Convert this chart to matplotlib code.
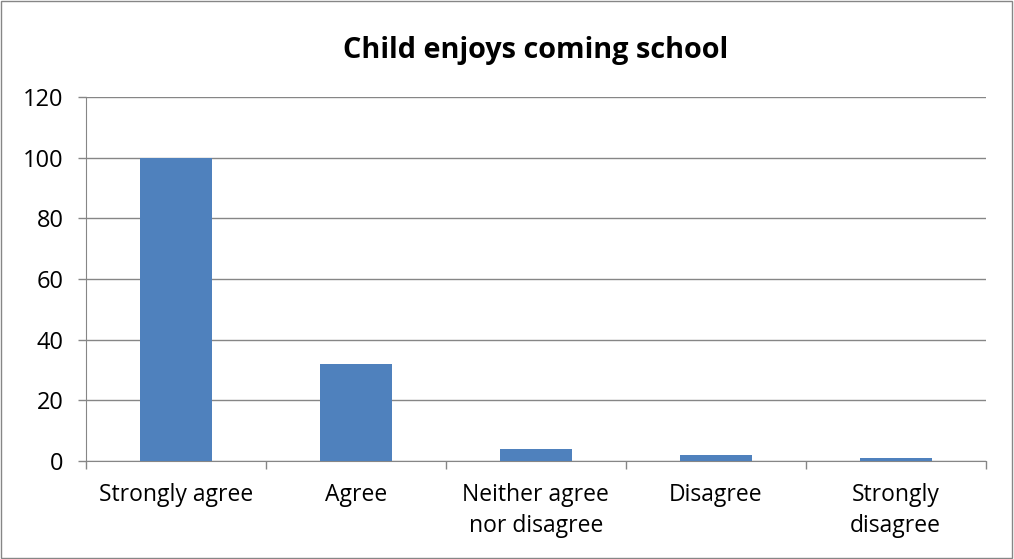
import matplotlib.pyplot as plt
import numpy as np

categories = ['Strongly agree', 'Agree', 'Neither agree\nnor disagree', 'Disagree', 'Strongly\ndisagree']
values = [100, 32, 4, 2, 1]
yticks = [0, 20, 40, 60, 80, 100, 120]

plt.rcParams['font.family'] = ['Open Sans', 'DejaVu Sans']

fig = plt.figure(figsize=(10.14, 5.59), dpi=100)
ax = fig.add_axes([0.0848, 0.1753, 0.8872, 0.6512])

grey = '#868686'
x = np.arange(len(categories))
ax.bar(x, values, width=0.4, color='#4F81BD', zorder=3)

ax.set_xlim(-0.5, len(categories) - 0.5)
ax.set_ylim(0, 120)
ax.set_yticks(yticks)
ax.set_yticklabels([str(v) for v in yticks], fontsize=17)
ax.yaxis.grid(True, color=grey, linewidth=1, zorder=0)

ax.set_xticks(x)
ax.set_xticklabels(categories, fontsize=16.5, linespacing=1.35)
ax.set_xticks(np.arange(len(categories) + 1) - 0.5, minor=True)
ax.tick_params(axis='x', which='major', length=0, pad=16)
ax.tick_params(axis='x', which='minor', length=6, color=grey, width=1)
ax.tick_params(axis='y', length=6, color=grey, width=1, pad=10)

for s in ['top', 'right']:
    ax.spines[s].set_visible(False)
ax.spines['left'].set_color(grey)
ax.spines['bottom'].set_color(grey)

ax.set_title('Child enjoys coming school', fontsize=20.8, fontweight='bold', pad=28)

fig.patches.append(plt.Rectangle((0.001, 0.002), 0.997, 0.996, transform=fig.transFigure,
                                 fill=False, edgecolor=grey, linewidth=1))

fig.savefig('out.png', dpi=100)
